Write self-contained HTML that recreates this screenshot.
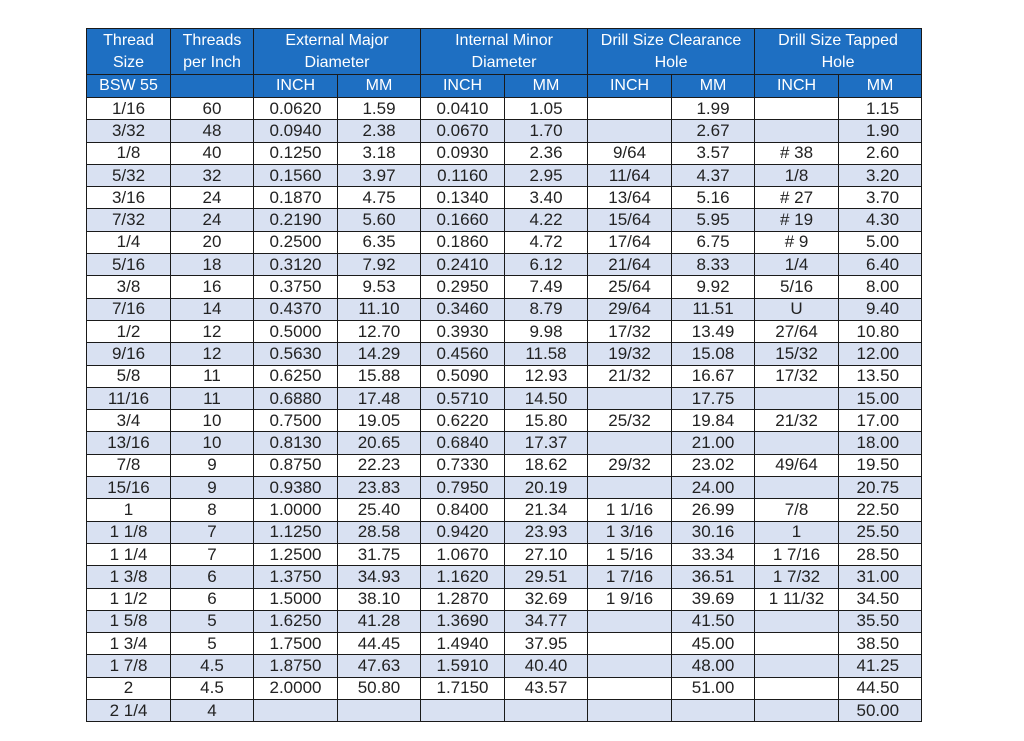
<!DOCTYPE html>
<html><head><meta charset="utf-8"><style>
body{margin:0;background:#fff;width:1024px;height:741px;overflow:hidden;font-family:"Liberation Sans",sans-serif;}
table{position:absolute;left:86px;top:28px;border-collapse:collapse;table-layout:fixed;width:835px;}
tr{height:22.3px}
td{border:1.5px solid #1a1a1a;padding:0;text-align:center;font-size:17px;color:#222;line-height:20px;white-space:nowrap;overflow:hidden}
tr.h td{background:#1e6fc2;color:#fff;font-size:16px;}
tr.h1{height:46px}
tr.h1 td{line-height:22px;}
tr.h2{height:23px}
tr.s td{background:#d9e1f2;}
td.r{text-align:right;padding-right:22px}
</style></head><body>
<table>
<colgroup><col style="width:84px"><col style="width:83px"><col style="width:84px"><col style="width:83px"><col style="width:84px"><col style="width:83px"><col style="width:84px"><col style="width:83px"><col style="width:84px"><col style="width:83px"></colgroup>
<tr class="h h1"><td>Thread<br>Size</td><td>Threads<br>per Inch</td><td colspan="2">External Major<br>Diameter</td><td colspan="2">Internal Minor<br>Diameter</td><td colspan="2">Drill Size Clearance<br>Hole</td><td colspan="2">Drill Size Tapped<br>Hole</td></tr>
<tr class="h h2"><td>BSW 55</td><td></td><td>INCH</td><td>MM</td><td>INCH</td><td>MM</td><td>INCH</td><td>MM</td><td>INCH</td><td>MM</td></tr>
<tr><td>1/16</td><td>60</td><td>0.0620</td><td>1.59</td><td>0.0410</td><td>1.05</td><td></td><td>1.99</td><td></td><td class="r">1.15</td></tr>
<tr class="s"><td>3/32</td><td>48</td><td>0.0940</td><td>2.38</td><td>0.0670</td><td>1.70</td><td></td><td>2.67</td><td></td><td class="r">1.90</td></tr>
<tr><td>1/8</td><td>40</td><td>0.1250</td><td>3.18</td><td>0.0930</td><td>2.36</td><td>9/64</td><td>3.57</td><td># 38</td><td class="r">2.60</td></tr>
<tr class="s"><td>5/32</td><td>32</td><td>0.1560</td><td>3.97</td><td>0.1160</td><td>2.95</td><td>11/64</td><td>4.37</td><td>1/8</td><td class="r">3.20</td></tr>
<tr><td>3/16</td><td>24</td><td>0.1870</td><td>4.75</td><td>0.1340</td><td>3.40</td><td>13/64</td><td>5.16</td><td># 27</td><td class="r">3.70</td></tr>
<tr class="s"><td>7/32</td><td>24</td><td>0.2190</td><td>5.60</td><td>0.1660</td><td>4.22</td><td>15/64</td><td>5.95</td><td># 19</td><td class="r">4.30</td></tr>
<tr><td>1/4</td><td>20</td><td>0.2500</td><td>6.35</td><td>0.1860</td><td>4.72</td><td>17/64</td><td>6.75</td><td># 9</td><td class="r">5.00</td></tr>
<tr class="s"><td>5/16</td><td>18</td><td>0.3120</td><td>7.92</td><td>0.2410</td><td>6.12</td><td>21/64</td><td>8.33</td><td>1/4</td><td class="r">6.40</td></tr>
<tr><td>3/8</td><td>16</td><td>0.3750</td><td>9.53</td><td>0.2950</td><td>7.49</td><td>25/64</td><td>9.92</td><td>5/16</td><td class="r">8.00</td></tr>
<tr class="s"><td>7/16</td><td>14</td><td>0.4370</td><td>11.10</td><td>0.3460</td><td>8.79</td><td>29/64</td><td>11.51</td><td>U</td><td class="r">9.40</td></tr>
<tr><td>1/2</td><td>12</td><td>0.5000</td><td>12.70</td><td>0.3930</td><td>9.98</td><td>17/32</td><td>13.49</td><td>27/64</td><td class="r">10.80</td></tr>
<tr class="s"><td>9/16</td><td>12</td><td>0.5630</td><td>14.29</td><td>0.4560</td><td>11.58</td><td>19/32</td><td>15.08</td><td>15/32</td><td class="r">12.00</td></tr>
<tr><td>5/8</td><td>11</td><td>0.6250</td><td>15.88</td><td>0.5090</td><td>12.93</td><td>21/32</td><td>16.67</td><td>17/32</td><td class="r">13.50</td></tr>
<tr class="s"><td>11/16</td><td>11</td><td>0.6880</td><td>17.48</td><td>0.5710</td><td>14.50</td><td></td><td>17.75</td><td></td><td class="r">15.00</td></tr>
<tr><td>3/4</td><td>10</td><td>0.7500</td><td>19.05</td><td>0.6220</td><td>15.80</td><td>25/32</td><td>19.84</td><td>21/32</td><td class="r">17.00</td></tr>
<tr class="s"><td>13/16</td><td>10</td><td>0.8130</td><td>20.65</td><td>0.6840</td><td>17.37</td><td></td><td>21.00</td><td></td><td class="r">18.00</td></tr>
<tr><td>7/8</td><td>9</td><td>0.8750</td><td>22.23</td><td>0.7330</td><td>18.62</td><td>29/32</td><td>23.02</td><td>49/64</td><td class="r">19.50</td></tr>
<tr class="s"><td>15/16</td><td>9</td><td>0.9380</td><td>23.83</td><td>0.7950</td><td>20.19</td><td></td><td>24.00</td><td></td><td class="r">20.75</td></tr>
<tr><td>1</td><td>8</td><td>1.0000</td><td>25.40</td><td>0.8400</td><td>21.34</td><td>1 1/16</td><td>26.99</td><td>7/8</td><td class="r">22.50</td></tr>
<tr class="s"><td>1 1/8</td><td>7</td><td>1.1250</td><td>28.58</td><td>0.9420</td><td>23.93</td><td>1 3/16</td><td>30.16</td><td>1</td><td class="r">25.50</td></tr>
<tr><td>1 1/4</td><td>7</td><td>1.2500</td><td>31.75</td><td>1.0670</td><td>27.10</td><td>1 5/16</td><td>33.34</td><td>1 7/16</td><td class="r">28.50</td></tr>
<tr class="s"><td>1 3/8</td><td>6</td><td>1.3750</td><td>34.93</td><td>1.1620</td><td>29.51</td><td>1 7/16</td><td>36.51</td><td>1 7/32</td><td class="r">31.00</td></tr>
<tr><td>1 1/2</td><td>6</td><td>1.5000</td><td>38.10</td><td>1.2870</td><td>32.69</td><td>1 9/16</td><td>39.69</td><td>1 11/32</td><td class="r">34.50</td></tr>
<tr class="s"><td>1 5/8</td><td>5</td><td>1.6250</td><td>41.28</td><td>1.3690</td><td>34.77</td><td></td><td>41.50</td><td></td><td class="r">35.50</td></tr>
<tr><td>1 3/4</td><td>5</td><td>1.7500</td><td>44.45</td><td>1.4940</td><td>37.95</td><td></td><td>45.00</td><td></td><td class="r">38.50</td></tr>
<tr class="s"><td>1 7/8</td><td>4.5</td><td>1.8750</td><td>47.63</td><td>1.5910</td><td>40.40</td><td></td><td>48.00</td><td></td><td class="r">41.25</td></tr>
<tr><td>2</td><td>4.5</td><td>2.0000</td><td>50.80</td><td>1.7150</td><td>43.57</td><td></td><td>51.00</td><td></td><td class="r">44.50</td></tr>
<tr class="s"><td>2 1/4</td><td>4</td><td></td><td></td><td></td><td></td><td></td><td></td><td></td><td class="r">50.00</td></tr>
</table>
</body></html>
